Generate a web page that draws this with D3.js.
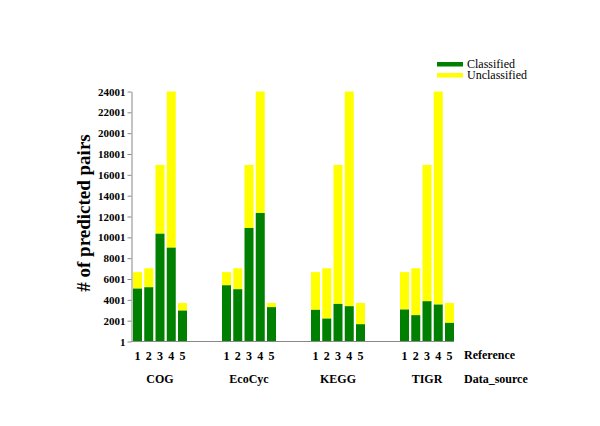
<!DOCTYPE html>
<html>
<head>
<meta charset="utf-8">
<script src="https://cdn.jsdelivr.net/npm/d3@7"></script>
<style>
  body { margin: 0; background: #fff; }
  svg { display: block; }
  svg text { font-family: "Liberation Serif", Tinos, "Times New Roman", Times, serif; }
</style>
</head>
<body>
<div id="chart"></div>
<script>
const groups = ['COG', 'EcoCyc', 'KEGG', 'TIGR'];
const references = ['1', '2', '3', '4', '5'];
const totals = [6660, 7030, 16950, 24001, 3700];
const classified = {
  COG:    [5080, 5210, 10350, 9010, 2970],
  EcoCyc: [5400, 5020, 10900, 12340, 3300],
  KEGG:   [3040, 2200, 3610, 3390, 1660],
  TIGR:   [3070, 2530, 3870, 3550, 1790]
};
const yTicks = d3.range(1, 24002, 2000);
const seriesNames = ['Classified', 'Unclassified'];
const colors = ['#008000', '#ffff00'];

const width = 600, height = 426;
const svg = d3.select('#chart').append('svg')
  .attr('width', width)
  .attr('height', height);

const yScale = d3.scaleLinear()
  .domain([1, 24001])
  .range([341.5, 91.5]);

const xGroup = d3.scaleBand()
  .domain(groups)
  .range([133, 489]);

const xRef = d3.scaleBand()
  .domain(references)
  .range([0, 54])
  .paddingInner(0.2);

const rows = [];
groups.forEach(g => {
  references.forEach((r, i) => {
    rows.push({ group: g, ref: r, classified: classified[g][i], total: totals[i] });
  });
});

const bars = svg.append('g');

bars.selectAll('rect.unc')
  .data(rows)
  .enter()
  .append('rect')
  .attr('class', 'unc')
  .attr('x', d => xGroup(d.group) + xRef(d.ref))
  .attr('y', d => yScale(d.total))
  .attr('width', xRef.bandwidth())
  .attr('height', d => yScale(d.classified) - yScale(d.total))
  .attr('fill', colors[1]);

bars.selectAll('rect.cls')
  .data(rows)
  .enter()
  .append('rect')
  .attr('class', 'cls')
  .attr('x', d => xGroup(d.group) + xRef(d.ref))
  .attr('y', d => yScale(d.classified))
  .attr('width', xRef.bandwidth())
  .attr('height', d => yScale(1) - yScale(d.classified))
  .attr('fill', colors[0]);

// y axis
const yAxis = svg.append('g')
  .attr('transform', 'translate(131.5,0)')
  .call(d3.axisLeft(yScale).tickValues(yTicks).tickFormat(d3.format('d')).tickSize(4).tickSizeOuter(0));
yAxis.select('.domain').attr('stroke', '#888');
yAxis.selectAll('.tick line').attr('stroke', '#888');
yAxis.selectAll('.tick text')
  .attr('font-weight', 'bold')
  .attr('font-size', '11px')
  .attr('fill', '#000')
  .attr('dx', '1px');

// baseline
svg.append('line')
  .attr('x1', 131.5).attr('x2', 454)
  .attr('y1', yScale(1)).attr('y2', yScale(1))
  .attr('stroke', '#888');

// reference labels
svg.append('g').selectAll('text')
  .data(rows)
  .enter()
  .append('text')
  .attr('x', d => xGroup(d.group) + xRef(d.ref) + xRef.bandwidth() / 2)
  .attr('y', 360)
  .attr('text-anchor', 'middle')
  .attr('font-size', '12px')
  .attr('font-weight', 'bold')
  .text(d => d.ref);

svg.append('g').selectAll('text')
  .data(groups)
  .enter()
  .append('text')
  .attr('x', g => xGroup(g) + 27)
  .attr('y', 383)
  .attr('text-anchor', 'middle')
  .attr('font-size', '12px')
  .attr('font-weight', 'bold')
  .text(g => g);

svg.append('text')
  .attr('x', 464).attr('y', 359)
  .attr('font-size', '12px')
  .attr('font-weight', 'bold')
  .text('Reference');

svg.append('text')
  .attr('x', 464).attr('y', 383)
  .attr('font-size', '12px')
  .attr('font-weight', 'bold')
  .text('Data_source');

// y title
svg.append('text')
  .attr('transform', 'translate(90,213) rotate(-90)')
  .attr('text-anchor', 'middle')
  .attr('font-size', '19px')
  .attr('font-weight', 'bold')
  .text('# of predicted pairs');

// legend
const legend = svg.append('g').attr('transform', 'translate(437,62)');
seriesNames.forEach((name, i) => {
  legend.append('rect')
    .attr('x', 0).attr('y', i * 11)
    .attr('width', 26).attr('height', 4.5)
    .attr('fill', colors[i]);
  legend.append('text')
    .attr('x', 30).attr('y', i * 11 + 6)
    .attr('font-size', '12px')
    .text(name);
});
</script>
</body>
</html>
